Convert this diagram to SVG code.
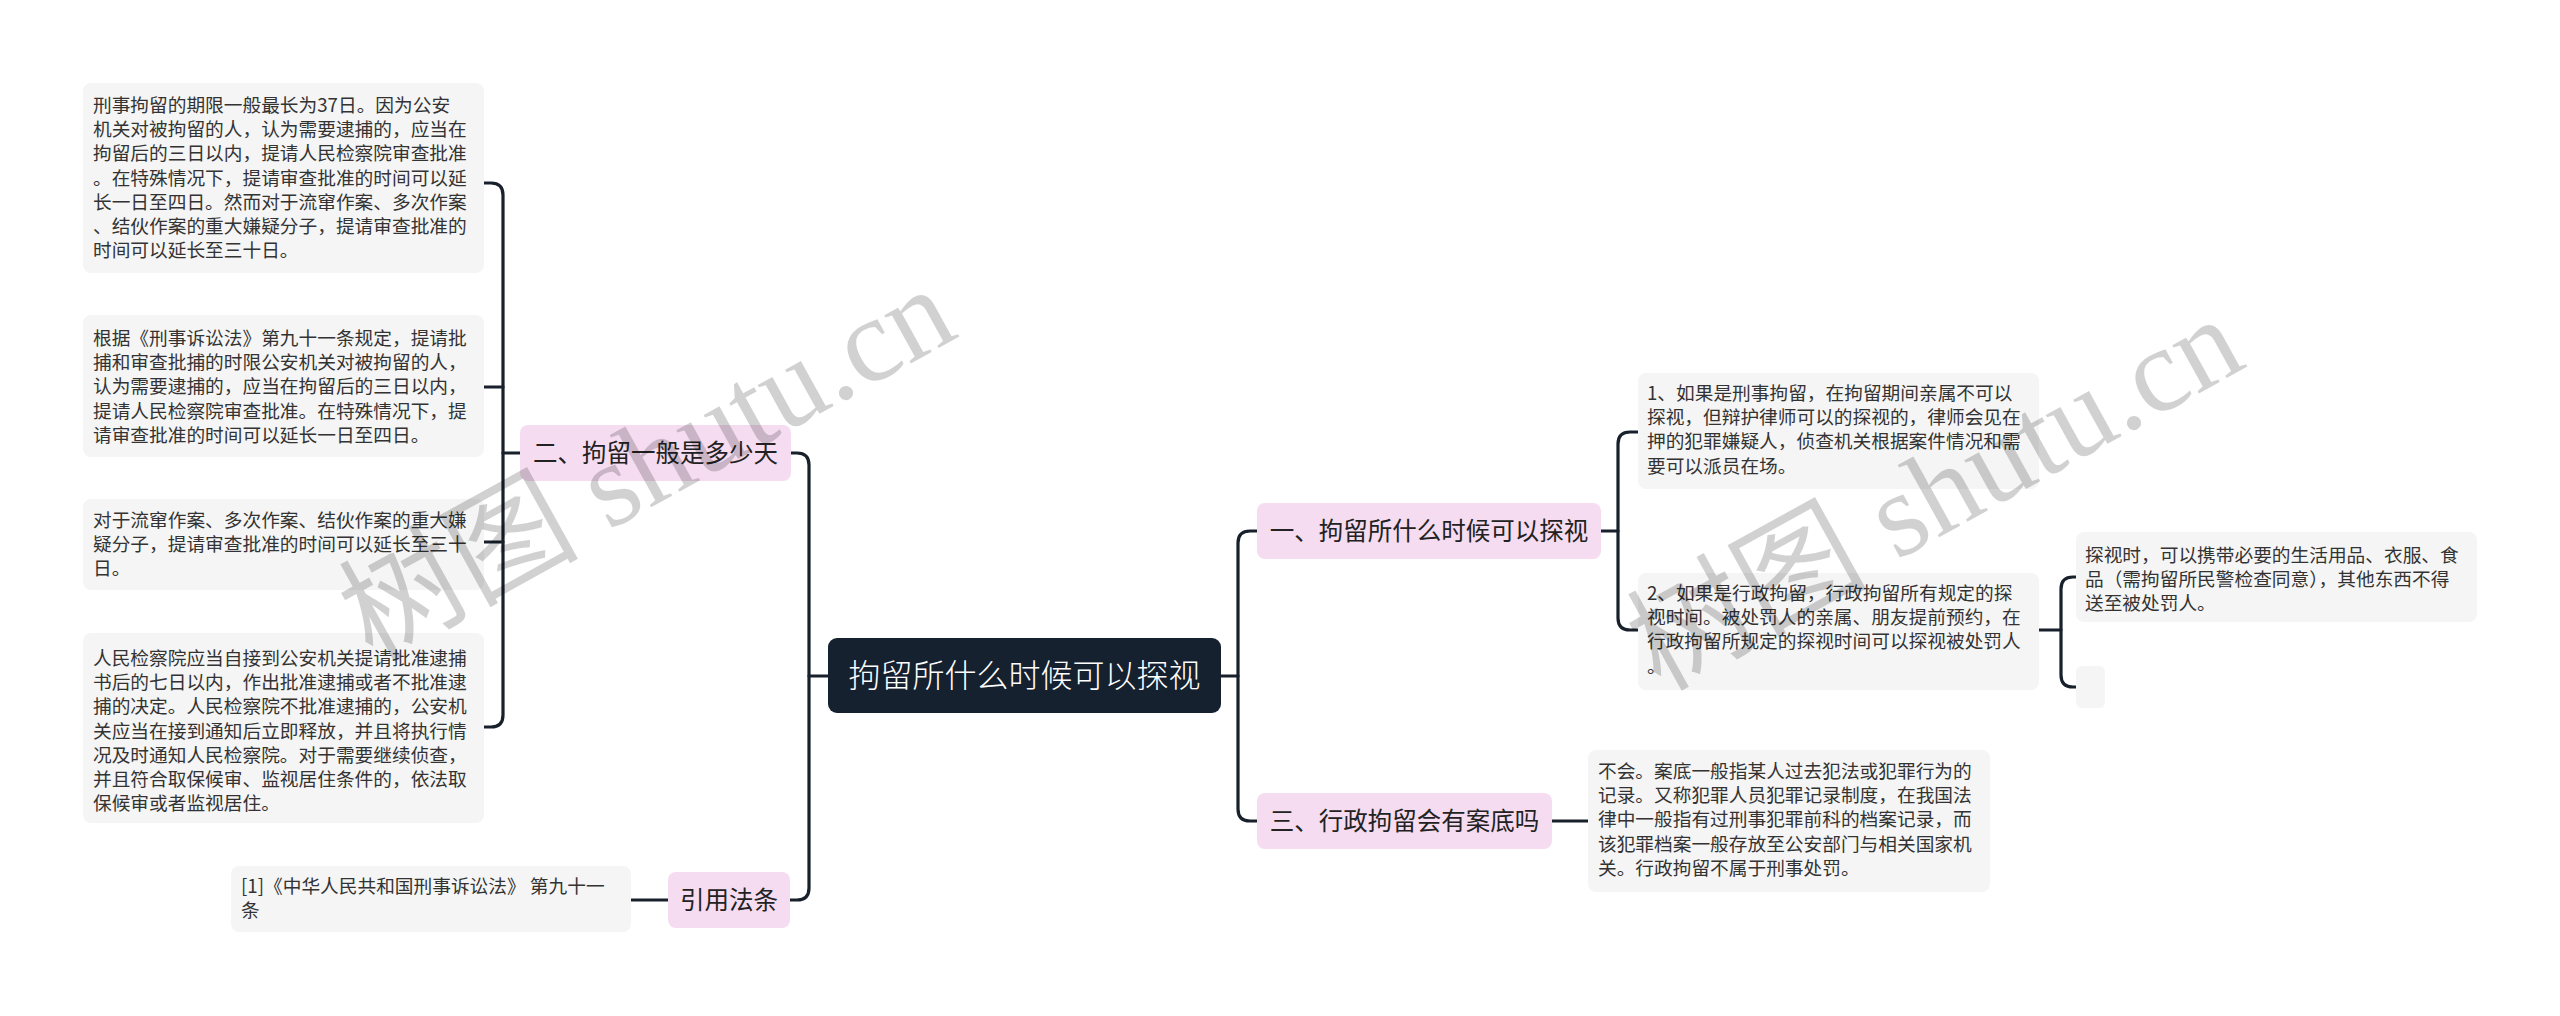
<svg xmlns="http://www.w3.org/2000/svg" width="2560" height="1016" viewBox="0 0 2560 1016">
<style>
.bg{fill:#ffffff}
.leaf{fill:#f5f5f5}
.br{fill:#f5dcf0}
.ctr{fill:#16212f}
.lt{font-family:"Noto Sans CJK SC","Noto Sans",sans-serif;font-size:18.7px;fill:#333333}
.bt{font-family:"Noto Sans CJK SC","Noto Sans",sans-serif;font-size:24.5px;fill:#222222}
.ct{font-family:"Noto Sans CJK SC","Noto Sans",sans-serif;font-size:32px;font-weight:300;fill:#ffffff}
.con{fill:none;stroke:#18202c;stroke-width:3.2;stroke-linecap:round;stroke-linejoin:round}
.wm{font-family:"Liberation Serif","Noto Sans CJK SC",serif;font-size:120px;fill:#000000;fill-opacity:0.18}
</style>
<rect class="bg" x="0" y="0" width="2560" height="1016"/>
<g id="connectors">
<path class="con" d="M828,676 H809"/>
<path class="con" d="M791,453 H797 Q809,453 809,465 V888 Q809,900 797,900 H790"/>
<path class="con" d="M520,453 H503"/>
<path class="con" d="M484,183 H491 Q503,183 503,195 V715 Q503,727 491,727 H484"/>
<path class="con" d="M484,387 H503"/>
<path class="con" d="M484,542 H503"/>
<path class="con" d="M631,900 H668"/>
<path class="con" d="M1221,676 H1238"/>
<path class="con" d="M1257,531 H1250 Q1238,531 1238,543 V809 Q1238,821 1250,821 H1257"/>
<path class="con" d="M1601,531 H1618"/>
<path class="con" d="M1638,432 H1630 Q1618,432 1618,444 V618 Q1618,630 1630,630 H1638"/>
<path class="con" d="M2039,630 H2061"/>
<path class="con" d="M2076,577 H2073 Q2061,577 2061,589 V675 Q2061,687 2073,687 H2076"/>
<path class="con" d="M1552,821 H1588"/>
</g>
<g id="center">
<rect class="ctr" x="828" y="638" width="393" height="75" rx="9"/>
<text class="ct" x="1024.5" y="687" text-anchor="middle">拘留所什么时候可以探视</text>
</g>
<g id="branch-2">
<rect class="br" x="520" y="425" width="271" height="56" rx="8"/>
<text class="bt" x="655.5" y="462" text-anchor="middle">二、拘留一般是多少天</text>
</g>
<g id="branch-cite">
<rect class="br" x="668" y="872" width="122" height="56" rx="8"/>
<text class="bt" x="729" y="909" text-anchor="middle">引用法条</text>
</g>
<g id="branch-1">
<rect class="br" x="1257" y="503" width="344" height="56" rx="8"/>
<text class="bt" x="1429" y="540" text-anchor="middle">一、拘留所什么时候可以探视</text>
</g>
<g id="branch-3">
<rect class="br" x="1257" y="793" width="295" height="56" rx="8"/>
<text class="bt" x="1404.5" y="830" text-anchor="middle">三、行政拘留会有案底吗</text>
</g>
<g id="leaf-l1">
<rect class="leaf" x="83" y="83" width="401" height="190" rx="8"/>
<text class="lt" x="93" y="112">
<tspan x="93" y="112">刑事拘留的期限一般最长为37日。因为公安</tspan>
<tspan x="93" y="136.2">机关对被拘留的人，认为需要逮捕的，应当在</tspan>
<tspan x="93" y="160.4">拘留后的三日以内，提请人民检察院审查批准</tspan>
<tspan x="93" y="184.6">。在特殊情况下，提请审查批准的时间可以延</tspan>
<tspan x="93" y="208.8">长一日至四日。然而对于流窜作案、多次作案</tspan>
<tspan x="93" y="233">、结伙作案的重大嫌疑分子，提请审查批准的</tspan>
<tspan x="93" y="257.2">时间可以延长至三十日。</tspan>
</text>
</g>
<g id="leaf-l2">
<rect class="leaf" x="83" y="315" width="401" height="142" rx="8"/>
<text class="lt">
<tspan x="93" y="345">根据《刑事诉讼法》第九十一条规定，提请批</tspan>
<tspan x="93" y="369.2">捕和审查批捕的时限公安机关对被拘留的人，</tspan>
<tspan x="93" y="393.4">认为需要逮捕的，应当在拘留后的三日以内，</tspan>
<tspan x="93" y="417.6">提请人民检察院审查批准。在特殊情况下，提</tspan>
<tspan x="93" y="441.8">请审查批准的时间可以延长一日至四日。</tspan>
</text>
</g>
<g id="leaf-l3">
<rect class="leaf" x="83" y="499" width="401" height="91" rx="8"/>
<text class="lt">
<tspan x="93" y="527">对于流窜作案、多次作案、结伙作案的重大嫌</tspan>
<tspan x="93" y="551.2">疑分子，提请审查批准的时间可以延长至三十</tspan>
<tspan x="93" y="575.4">日。</tspan>
</text>
</g>
<g id="leaf-l4">
<rect class="leaf" x="83" y="633" width="401" height="190" rx="8"/>
<text class="lt">
<tspan x="93" y="665">人民检察院应当自接到公安机关提请批准逮捕</tspan>
<tspan x="93" y="689.2">书后的七日以内，作出批准逮捕或者不批准逮</tspan>
<tspan x="93" y="713.4">捕的决定。人民检察院不批准逮捕的，公安机</tspan>
<tspan x="93" y="737.6">关应当在接到通知后立即释放，并且将执行情</tspan>
<tspan x="93" y="761.8">况及时通知人民检察院。对于需要继续侦查，</tspan>
<tspan x="93" y="786">并且符合取保候审、监视居住条件的，依法取</tspan>
<tspan x="93" y="810.2">保候审或者监视居住。</tspan>
</text>
</g>
<g id="leaf-cite">
<rect class="leaf" x="231" y="866" width="400" height="66" rx="8"/>
<text class="lt">
<tspan x="241" y="893">[1]《中华人民共和国刑事诉讼法》 第九十一</tspan>
<tspan x="241" y="917">条</tspan>
</text>
</g>
<g id="leaf-r1">
<rect class="leaf" x="1638" y="373" width="401" height="116" rx="8"/>
<text class="lt">
<tspan x="1647" y="400">1、如果是刑事拘留，在拘留期间亲属不可以</tspan>
<tspan x="1647" y="424.2">探视，但辩护律师可以的探视的，律师会见在</tspan>
<tspan x="1647" y="448.4">押的犯罪嫌疑人，侦查机关根据案件情况和需</tspan>
<tspan x="1647" y="472.6">要可以派员在场。</tspan>
</text>
</g>
<g id="leaf-r2">
<rect class="leaf" x="1638" y="573" width="401" height="117" rx="8"/>
<text class="lt">
<tspan x="1647" y="600">2、如果是行政拘留，行政拘留所有规定的探</tspan>
<tspan x="1647" y="624.2">视时间。被处罚人的亲属、朋友提前预约，在</tspan>
<tspan x="1647" y="648.4">行政拘留所规定的探视时间可以探视被处罚人</tspan>
<tspan x="1647" y="672.6">。</tspan>
</text>
</g>
<g id="leaf-r2a">
<rect class="leaf" x="2076" y="532" width="401" height="90" rx="8"/>
<text class="lt">
<tspan x="2085" y="562">探视时，可以携带必要的生活用品、衣服、食</tspan>
<tspan x="2085" y="586.2">品（需拘留所民警检查同意），其他东西不得</tspan>
<tspan x="2085" y="610.4">送至被处罚人。</tspan>
</text>
</g>
<g id="leaf-r2b">
<rect class="leaf" x="2076" y="666" width="29" height="42" rx="6"/>
</g>
<g id="leaf-r3">
<rect class="leaf" x="1588" y="750" width="402" height="142" rx="8"/>
<text class="lt">
<tspan x="1598" y="778">不会。案底一般指某人过去犯法或犯罪行为的</tspan>
<tspan x="1598" y="802.2">记录。又称犯罪人员犯罪记录制度，在我国法</tspan>
<tspan x="1598" y="826.4">律中一般指有过刑事犯罪前科的档案记录，而</tspan>
<tspan x="1598" y="850.6">该犯罪档案一般存放至公安部门与相关国家机</tspan>
<tspan x="1598" y="874.8">关。行政拘留不属于刑事处罚。</tspan>
</text>
</g>
<g id="watermarks">
<text class="wm" transform="translate(372,662) rotate(-29)">树图 shutu.cn</text>
<text class="wm" transform="translate(1660,692) rotate(-29)">树图 shutu.cn</text>
</g>
</svg>
